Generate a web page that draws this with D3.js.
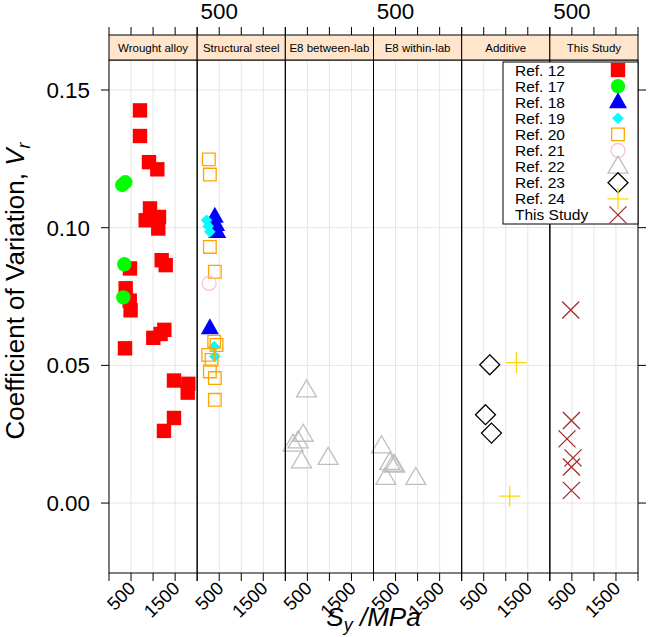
<!DOCTYPE html>
<html><head><meta charset="utf-8">
<script src="https://cdn.jsdelivr.net/npm/d3@7"></script>
<style>body{margin:0;background:#fff}svg{display:block;font-family:"Liberation Sans",Arial,Helvetica,sans-serif}</style>
</head><body><svg id="c" width="648" height="637"></svg>
<script>
const panels = ["Wrought alloy","Structural steel","E8 between-lab","E8 within-lab","Additive","This Study"];
const seriesNames = ["Ref. 12","Ref. 17","Ref. 18","Ref. 19","Ref. 20","Ref. 21","Ref. 22","Ref. 23","Ref. 24","This Study"];
const seriesColors = ["#FF0000","#00FF00","#0000FF","#00FFFF","#FFA500","#FFC0CB","#BEBEBE","#000000","#FFD700","#A52A2A"];
const seriesShapes = ["sqF","circF","triF","diaF","sqO","circO","triO","diaO","plus","cross"];
const xTicks = [0,500,1000,1500,2000];
const xTickLabels = ["","500","","1500",""];
const yTicks = [0.00,0.05,0.10,0.15];
const yTickLabels = ["0.00","0.05","0.10","0.15"];
// points: [panel index, Sy (MPa), Vr]
const ref12 = [[0,703,0.1426],[0,703,0.1333],[0,907,0.1238],[0,1096,0.1212],[0,930,0.1070],[0,832,0.1027],[0,1134,0.1039],[0,1118,0.0997],[0,1195,0.0882],[0,1286,0.0864],[0,476,0.0852],[0,378,0.0780],[0,470,0.0735],[0,490,0.0700],[0,1255,0.0629],[0,1170,0.0614],[0,1005,0.0600],[0,363,0.0562],[0,1474,0.0445],[0,1799,0.0433],[0,1785,0.0401],[0,1474,0.0309],[0,1247,0.0262]];
const ref17 = [[0,300,0.1155],[0,370,0.1165],[0,347,0.0867],[0,325,0.0747]];
const ref18 = [[1,400,0.1040],[1,430,0.1010],[1,455,0.0985],[1,288,0.0635]];
const ref19 = [[1,213,0.1027],[1,250,0.1005],[1,288,0.0985],[1,386,0.0568],[1,401,0.0532]];
const ref20 = [[1,265,0.1248],[1,288,0.1193],[1,288,0.0930],[1,401,0.0840],[1,386,0.0586],[1,440,0.0574],[1,250,0.0538],[1,326,0.0520],[1,288,0.0478],[1,401,0.0454],[1,401,0.0375]];
const ref21 = [[1,272,0.0798]];
const ref22 = [[2,481,0.0409],[2,404,0.0248],[2,290,0.0224],[2,177,0.0212],[2,367,0.0151],[2,971,0.0164],[3,181,0.0206],[3,370,0.0146],[3,445,0.0139],[3,483,0.0136],[3,279,0.0091],[3,959,0.0091]];
const ref23 = [[4,637,0.0502],[4,540,0.0321],[4,676,0.0254]];
const ref24 = [[4,1243,0.0510],[4,1091,0.0025]];
const thisStudy = [[5,474,0.0701],[5,490,0.0300],[5,390,0.0233],[5,526,0.0164],[5,490,0.0131],[5,490,0.0046]];
const seriesData = [ref12,ref17,ref18,ref19,ref20,ref21,ref22,ref23,ref24,thisStudy];

const svg = d3.select("#c");
const L = 109, R = 638, T = 60, B = 573, stripTop = 35;
const pw = (R - L) / panels.length;
const x = d3.scaleLinear().domain([0,2000]).range([0,pw]);
const y = d3.scaleLinear().domain([-0.0254,0.1609]).range([B,T]);
const px = (p,v) => L + p*pw + x(v);

function shapePath(s, k){
  k = k || 1;
  switch(s){
    case "sqF": {const h=7.2*k; return `M${-h},${-h}H${h}V${h}H${-h}Z`;}
    case "sqO": {const h=6.3*k; return `M${-h},${-h}H${h}V${h}H${-h}Z`;}
    case "circF": {const r=7.2*k; return `M${r},0A${r},${r} 0 1 1 ${-r},0A${r},${r} 0 1 1 ${r},0Z`;}
    case "circO": {const r=7*k; return `M${r},0A${r},${r} 0 1 1 ${-r},0A${r},${r} 0 1 1 ${r},0Z`;}
    case "triF": {const w=9*k,h=16*k; return `M0,${-h*0.62}L${w},${h*0.38}L${-w},${h*0.38}Z`;}
    case "triO": {const w=10*k,h=17*k; return `M0,${-h*0.62}L${w},${h*0.38}L${-w},${h*0.38}Z`;}
    case "diaF": {const r=5.8*k; return `M0,${-r}L${r},0L0,${r}L${-r},0Z`;}
    case "diaO": {const r=10*k; return `M0,${-r}L${r},0L0,${r}L${-r},0Z`;}
    case "plus": {const r=10.5*k; return `M${-r},0H${r}M0,${-r}V${r}`;}
    case "cross": {const r=8.5*k; return `M${-r},${-r}L${r},${r}M${r},${-r}L${-r},${r}`;}
  }
}
const filled = s => s.endsWith("F");

// grid
for(let p=0;p<panels.length;p++){
  const g = svg.append("g");
  const x0 = L + p*pw;
  xTicks.forEach(t=>{
    g.append("line").attr("x1",x0+x(t)).attr("x2",x0+x(t)).attr("y1",T).attr("y2",B).attr("stroke","#E6E6E6").attr("stroke-width",1);
  });
  yTicks.forEach(t=>{
    g.append("line").attr("x1",x0).attr("x2",x0+pw).attr("y1",y(t)).attr("y2",y(t)).attr("stroke","#E6E6E6").attr("stroke-width",1);
  });
}

// points
seriesData.forEach((arr,i)=>{
  const s = seriesShapes[i], c = seriesColors[i];
  svg.append("g").selectAll("path").data(arr).enter().append("path")
    .attr("transform",d=>`translate(${px(d[0],d[1])},${y(d[2])})`)
    .attr("d",shapePath(s))
    .attr("fill",filled(s)?c:"none")
    .attr("stroke",filled(s)?"none":c)
    .attr("stroke-width",1.3);
});

// panel borders, strips, x axes
for(let p=0;p<panels.length;p++){
  const x0 = L + p*pw;
  svg.append("rect").attr("x",x0).attr("y",T).attr("width",pw).attr("height",B-T).attr("fill","none").attr("stroke","#000").attr("stroke-width",1);
  svg.append("rect").attr("x",x0).attr("y",stripTop).attr("width",pw).attr("height",T-stripTop).attr("fill","#FFE5CC").attr("stroke","#000").attr("stroke-width",1);
  svg.append("text").attr("x",x0+pw/2).attr("y",(stripTop+T)/2).attr("dy","0.35em").attr("text-anchor","middle").attr("font-size",11.5).text(panels[p]);
  xTicks.forEach(t=>{
    svg.append("line").attr("x1",x0+x(t)).attr("x2",x0+x(t)).attr("y1",stripTop).attr("y2",stripTop-8).attr("stroke","#000");
  });
  if(p%2===1){
    svg.append("text").attr("x",x0+x(500)).attr("y",18.5).attr("text-anchor","middle").attr("font-size",22.4).text("500");
  }
  xTicks.forEach((t,j)=>{
    svg.append("line").attr("x1",x0+x(t)).attr("x2",x0+x(t)).attr("y1",B).attr("y2",B+8).attr("stroke","#000");
    if(xTickLabels[j]){
      svg.append("text").attr("transform",`translate(${x0+x(t)+1},${B+12}) rotate(-45)`)
        .attr("text-anchor","end").attr("dy","0.35em").attr("font-size",18.5).text(xTickLabels[j]);
    }
  });
}
// y axis
yTicks.forEach((t,j)=>{
  svg.append("line").attr("x1",L).attr("x2",L-8).attr("y1",y(t)).attr("y2",y(t)).attr("stroke","#000");
  svg.append("line").attr("x1",R).attr("x2",R+8).attr("y1",y(t)).attr("y2",y(t)).attr("stroke","#000");
  svg.append("text").attr("x",L-19).attr("y",y(t)).attr("dy","0.35em").attr("text-anchor","end").attr("font-size",22.4).text(yTickLabels[j]);
});

// axis titles
const yt = svg.append("text").attr("transform","translate(24,291) rotate(-90)").attr("text-anchor","middle").attr("font-size",26);
yt.append("tspan").text("Coefficient of Variation, ");
yt.append("tspan").attr("font-style","italic").text("V");
yt.append("tspan").attr("font-style","italic").attr("font-size",18).attr("dy",6).text("r");

const xt = svg.append("text").attr("x",(L+R)/2).attr("y",626).attr("text-anchor","middle").attr("font-size",26).attr("font-style","italic");
xt.append("tspan").text("S");
xt.append("tspan").attr("font-size",18).attr("dy",5).text("y");
xt.append("tspan").attr("dy",-5).text(" /MPa");

// legend
const lg = svg.append("g");
lg.append("rect").attr("x",503).attr("y",62).attr("width",135).attr("height",162).attr("fill","#fff").attr("stroke","#000").attr("stroke-width",1);
seriesNames.forEach((n,i)=>{
  const yy = 70 + i*16.1;
  lg.append("text").attr("x",515).attr("y",yy).attr("dy","0.36em").attr("font-size",15.5).text(n);
  const s = seriesShapes[i], c = seriesColors[i];
  lg.append("path").attr("transform",`translate(618,${yy})`).attr("d",shapePath(s))
    .attr("fill",filled(s)?c:"none").attr("stroke",filled(s)?"none":c).attr("stroke-width",1.3);
});
</script></body></html>
